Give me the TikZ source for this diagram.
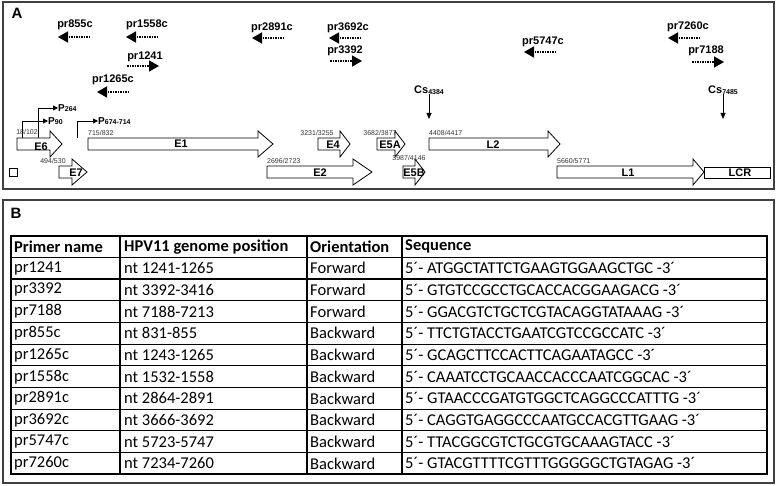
\documentclass[tikz,border=0pt]{standalone}
\usepackage{fontspec}
\setmainfont{Liberation Sans}
\newfontfamily\tabfont{Carlito}
\usetikzlibrary{arrows.meta}

% block arrow for an open reading frame: start, head base, tip, middle height
\newcommand{\orf}[4]{%
  \draw[gene] (#1,#4-6) -- (#2,#4-6) -- (#2,#4-13) -- (#3,#4)
    -- (#2,#4+13) -- (#2,#4+6) -- (#1,#4+6) -- cycle;}
\newcommand{\sub}[1]{\raisebox{-0.8pt}{\fontsize{7}{7}\selectfont\bfseries #1}}

\begin{document}
\begin{tikzpicture}[x=1pt,y=-1pt,
    panelframe/.style={draw=black!75, line width=1.5pt},
    primer/.style={densely dotted, line width=1.5pt, -{Triangle[length=10pt,width=11pt]}},
    plabel/.style={font=\fontsize{11}{11}\selectfont\bfseries, inner sep=0pt},
    ntpos/.style={font=\fontsize{7}{7}\selectfont, inner sep=0pt, text=black!80},
    gene/.style={draw, line width=0.8pt, fill=white},
    gname/.style={font=\fontsize{11}{11}\selectfont\bfseries, inner sep=0pt},
    prom/.style={line width=0.8pt, -{Triangle[length=5pt,width=5pt]}},
    cutarrow/.style={line width=0.8pt, -{Triangle[length=6pt,width=5pt]}},
    cell/.style={font=\tabfont\fontsize{16.5}{16.5}\selectfont, anchor=west, inner sep=0pt},
    hcell/.style={cell, font=\tabfont\fontsize{16.5}{16.5}\selectfont\bfseries},
    tabrule/.style={line width=1.1pt}]
    \useasboundingbox (0,0) rectangle (778,486);

    % panel A
    \draw[panelframe] (3,2) rectangle (774,189);
    \node[font=\fontsize{15}{15}\selectfont\bfseries] (lA) at (17,13) {A};

    \node[plabel] (t855) at (75,25) {pr855c};
    \draw[primer] (90,37) -- (58,37);
    \node[plabel] (t1558) at (147,25) {pr1558c};
    \draw[primer] (158,37) -- (126,37);
    \node[plabel] (t1241) at (145,57) {pr1241};
    \draw[primer] (127,66) -- (159,66);
    \node[plabel] (t1265) at (113,80) {pr1265c};
    \draw[primer] (129,92) -- (97,92);
    \node[plabel] (t2891) at (272,28) {pr2891c};
    \draw[primer] (284,38) -- (252,38);
    \node[plabel] (t3692) at (348,28) {pr3692c};
    \draw[primer] (361,38) -- (329,38);
    \node[plabel] (t3392) at (345,51) {pr3392};
    \draw[primer] (330,61) -- (362,61);
    \node[plabel] (t5747) at (543,42) {pr5747c};
    \draw[primer] (556,52) -- (524,52);
    \node[plabel] (t7260) at (688,27) {pr7260c};
    \draw[primer] (700,38) -- (668,38);
    \node[plabel] (t7188) at (706,51) {pr7188};
    \draw[primer] (692,62) -- (724,62);

    % cut sites
    \node[plabel] (cs1) at (429,90) {Cs\sub{4384}};
    \coordinate (cs1e) at (429,119);
    \draw[cutarrow] (cs1.south) -- (cs1e);
    \node[plabel] (cs2) at (723,90) {Cs\sub{7485}};
    \coordinate (cs2e) at (723,119);
    \draw[cutarrow] (cs2.south) -- (cs2e);

    % promoters
    \node[plabel, anchor=west, font=\fontsize{10}{10}\selectfont\bfseries] (p264) at (58,108) {P\sub{264}};
    \coordinate (s264) at (38,138);
    \draw[prom] (s264) |- (p264.west);
    \node[plabel, anchor=west, font=\fontsize{10}{10}\selectfont\bfseries] (p90) at (48,121) {P\sub{90}};
    \coordinate (s90) at (22,138);
    \draw[prom] (s90) |- (p90.west);
    \node[plabel, anchor=west, font=\fontsize{10}{10}\selectfont\bfseries] (p674) at (98,121) {P\sub{674-714}};
    \coordinate (s674) at (77,138);
    \draw[prom] (s674) |- (p674.west);

    % genes
    \orf{17}{50}{62}{144}
    \node[ntpos] (n6) at (27,132) {18/102};
    \node[gname] (e6) at (41,147) {E6};
    \orf{59}{72}{87}{172}
    \node[ntpos] (n7) at (53,161) {494/530};
    \node[gname] (e7) at (76,173) {E7};
    \draw[line width=0.8pt] (9,168) rectangle (17,176);
    \orf{88}{258}{273}{144}
    \node[ntpos, anchor=west] (n1) at (88,133) {715/832};
    \node[gname] (e1) at (181,144) {E1};
    \orf{318}{340}{350}{144}
    \node[ntpos] (n4) at (317,133) {3231/3255};
    \node[gname] (e4) at (333,145) {E4};
    \orf{377}{395}{405}{144}
    \node[ntpos] (n5a) at (380,133) {3682/3877};
    \node[gname] (e5a) at (390,145) {E5A};
    \orf{267}{353}{372}{172}
    \node[ntpos, anchor=west] (n2) at (267,161) {2696/2723};
    \node[gname] (e2) at (320,173) {E2};
    \orf{403}{415}{425}{172}
    \node[ntpos] (n5b) at (409,158) {3987/4146};
    \node[gname] (e5b) at (414,173) {E5B};
    \orf{429}{548}{560}{144}
    \node[ntpos, anchor=west] (nl2) at (429,133) {4408/4417};
    \node[gname] (l2) at (493,145) {L2};
    \orf{557}{693}{704}{172}
    \node[ntpos, anchor=west] (nl1) at (557,161) {5660/5771};
    \node[gname] (l1) at (628,173) {L1};
    \draw[gene] (704,167) rectangle (770,178);
    \node[gname] (lcr) at (740,173) {LCR};

    % panel B
    \draw[panelframe] (3,200) rectangle (774,483);
    \node[font=\fontsize{15}{15}\selectfont\bfseries] (lB) at (16,213) {B};

    \draw[tabrule] (11,236) rectangle (767,474);
    \draw[tabrule] (120,236) -- (120,474);
    \draw[tabrule] (307,236) -- (307,474);
    \draw[tabrule] (402,236) -- (402,474);
    \draw[tabrule] (11,257.3) -- (767,257.3);
    \draw[tabrule] (11,279.0) -- (767,279.0);
    \draw[tabrule] (11,300.7) -- (767,300.7);
    \draw[tabrule] (11,322.4) -- (767,322.4);
    \draw[tabrule] (11,344.1) -- (767,344.1);
    \draw[tabrule] (11,365.8) -- (767,365.8);
    \draw[tabrule] (11,387.5) -- (767,387.5);
    \draw[tabrule] (11,409.2) -- (767,409.2);
    \draw[tabrule] (11,430.9) -- (767,430.9);
    \draw[tabrule] (11,452.6) -- (767,452.6);

    \node[hcell] (h1) at (14,246.7) {Primer name};
    \node[hcell] (h2) at (124,246.7) {HPV11 genome position};
    \node[hcell] (h3) at (310,246.7) {Orientation};
    \node[hcell] (h4) at (405,246.7) {Sequence};

    \node[cell] (a1) at (14,268.2) {pr1241};
    \node[cell] (b1) at (124,268.2) {nt 1241-1265};
    \node[cell] (c1) at (310,268.2) {Forward};
    \node[cell] (d1) at (405,268.2) {5´- ATGGCTATTCTGAAGTGGAAGCTGC -3´};
    \node[cell] (a2) at (14,289.9) {pr3392};
    \node[cell] (b2) at (124,289.9) {nt 3392-3416};
    \node[cell] (c2) at (310,289.9) {Forward};
    \node[cell] (d2) at (405,289.9) {5´- GTGTCCGCCTGCACCACGGAAGACG -3´};
    \node[cell] (a3) at (14,311.6) {pr7188};
    \node[cell] (b3) at (124,311.6) {nt 7188-7213};
    \node[cell] (c3) at (310,311.6) {Forward};
    \node[cell] (d3) at (405,311.6) {5´- GGACGTCTGCTCGTACAGGTATAAAG -3´};
    \node[cell] (a4) at (14,333.3) {pr855c};
    \node[cell] (b4) at (124,333.3) {nt 831-855};
    \node[cell] (c4) at (310,333.3) {Backward};
    \node[cell] (d4) at (405,333.3) {5´- TTCTGTACCTGAATCGTCCGCCATC -3´};
    \node[cell] (a5) at (14,355.0) {pr1265c};
    \node[cell] (b5) at (124,355.0) {nt 1243-1265};
    \node[cell] (c5) at (310,355.0) {Backward};
    \node[cell] (d5) at (405,355.0) {5´- GCAGCTTCCACTTCAGAATAGCC -3´};
    \node[cell] (a6) at (14,376.7) {pr1558c};
    \node[cell] (b6) at (124,376.7) {nt 1532-1558};
    \node[cell] (c6) at (310,376.7) {Backward};
    \node[cell] (d6) at (405,376.7) {5´- CAAATCCTGCAACCACCCAATCGGCAC -3´};
    \node[cell] (a7) at (14,398.4) {pr2891c};
    \node[cell] (b7) at (124,398.4) {nt 2864-2891};
    \node[cell] (c7) at (310,398.4) {Backward};
    \node[cell] (d7) at (405,398.4) {5´- GTAACCCGATGTGGCTCAGGCCCATTTG -3´};
    \node[cell] (a8) at (14,420.1) {pr3692c};
    \node[cell] (b8) at (124,420.1) {nt 3666-3692};
    \node[cell] (c8) at (310,420.1) {Backward};
    \node[cell] (d8) at (405,420.1) {5´- CAGGTGAGGCCCAATGCCACGTTGAAG -3´};
    \node[cell] (a9) at (14,441.8) {pr5747c};
    \node[cell] (b9) at (124,441.8) {nt 5723-5747};
    \node[cell] (c9) at (310,441.8) {Backward};
    \node[cell] (d9) at (405,441.8) {5´- TTACGGCGTCTGCGTGCAAAGTACC -3´};
    \node[cell] (a10) at (14,463.4) {pr7260c};
    \node[cell] (b10) at (124,463.4) {nt 7234-7260};
    \node[cell] (c10) at (310,463.4) {Backward};
    \node[cell] (d10) at (405,463.4) {5´- GTACGTTTTCGTTTGGGGGCTGTAGAG -3´};
\end{tikzpicture}
\end{document}
